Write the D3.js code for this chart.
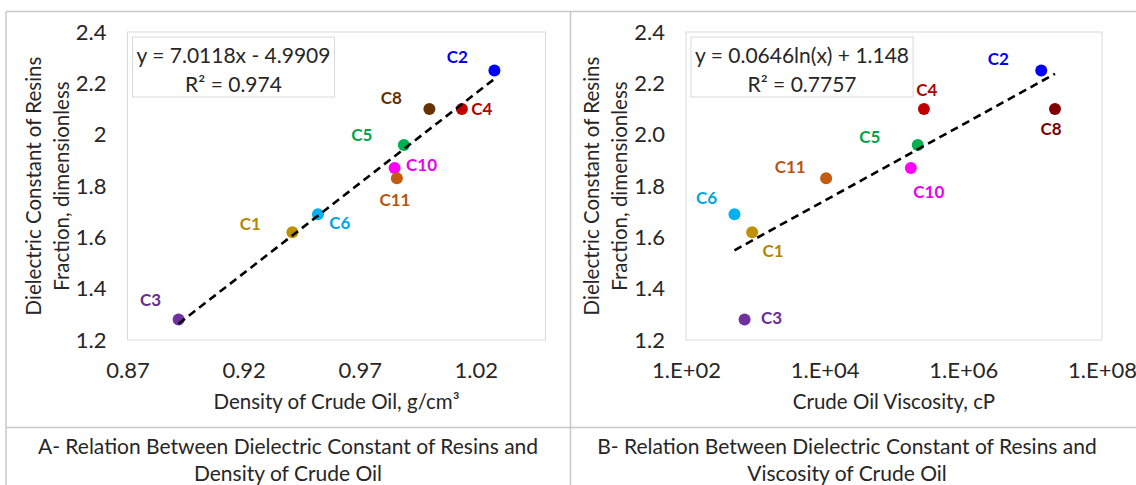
<!DOCTYPE html>
<meta charset="utf-8">
<style>
body { margin: 0; background: #fff; }
svg text { font-family: Lato, "Open Sans", sans-serif; fill: #262626; }
.tick text { font-size: 22px; }
.axis-title { font-size: 20.5px; }
.eq { font-size: 21px; }
.pt-label { font-size: 17px; font-weight: 700; }
.caption { font-size: 21px; }
</style>

<svg width="1136" height="485"></svg>

<script src="https://d3js.org/d3.v7.min.js"></script>
<script>

// crude samples
var names      = ["C1", "C2", "C3", "C4", "C5", "C6", "C8", "C10", "C11"];
var density    = [0.941, 1.028, 0.892, 1.014, 0.989, 0.952, 1.000, 0.985, 0.986];   // g/cm3
var viscosity  = [900, 1.33e7, 700, 2.7e5, 2.2e5, 500, 2.1e7, 1.75e5, 1.05e4];       // cP
var dielectric = [1.62, 2.25, 1.28, 2.10, 1.96, 1.69, 2.10, 1.87, 1.83];

// trend lines as given on the chart
var linCoef = [7.0118, -4.9909], linR2 = 0.974;   // y = a*x + b
var logCoef = [0.0646, 1.148],   logR2 = 0.7757;  // y = a*ln(x) + b

// axes
var yTicks       = [1.2, 1.4, 1.6, 1.8, 2.0, 2.2, 2.4];
var densityTicks = [0.87, 0.92, 0.97, 1.02];
var viscTicks    = [1e2, 1e4, 1e6, 1e8];

var captionA = ["A- Relation Between Dielectric Constant of Resins and", "Density of Crude Oil"];
var captionB = ["B- Relation Between Dielectric Constant of Resins and", "Viscosity of Crude Oil"];

// colours
var colorsA = {C1:"#bf9000", C2:"#0000ff", C3:"#7030a0", C4:"#c00000", C5:"#00b050",
               C6:"#00b0f0", C8:"#663300", C10:"#ff00ff", C11:"#c55a11"};
var colorsB = Object.assign({}, colorsA, {C8: "#800000"});

// label offsets from the dots (label centre)
var offA = {C1:[-42,-9], C2:[-37,-14], C3:[-28,-20], C4:[20,-1], C5:[-42,-10],
            C6:[22,8], C8:[-38,-12], C10:[27,-4], C11:[-2,21]};
var offB = {C1:[21,18], C2:[-43,-12], C3:[27,-2], C4:[3,-20], C5:[-48,-8],
            C6:[-28,-17], C8:[-4,19], C10:[18,23], C11:[-36,-12]};

var svg = d3.select("svg");
var top_ = 32, bottom = 340;

// table frame
var frame = svg.append("g").attr("stroke", "#c8c8c8").attr("stroke-width", 1.5);
frame.append("line").attr("x1", 6).attr("x2", 1136).attr("y1", 11.5).attr("y2", 11.5);
frame.append("line").attr("x1", 6).attr("x2", 6).attr("y1", 11.5).attr("y2", 485);
frame.append("line").attr("x1", 570.5).attr("x2", 570.5).attr("y1", 11.5).attr("y2", 485);
frame.append("line").attr("x1", 6).attr("x2", 1136).attr("y1", 427.5).attr("y2", 427.5);

var y = d3.scaleLinear().domain([1.2, 2.4]).range([bottom, top_]);

function panel(o) {
  var g = svg.append("g");
  var x = o.x;
  var x0 = x.range()[0], x1 = x.range()[1];

  g.append("rect")
      .attr("x", x0).attr("y", top_)
      .attr("width", x1 - x0).attr("height", bottom - top_)
      .attr("fill", "none").attr("stroke", "#d9d9d9");

  g.append("g")
      .attr("transform", "translate(" + x0 + ",0)")
      .call(d3.axisLeft(y).tickValues(yTicks).tickSize(0).tickPadding(21).tickFormat(o.yFmt))
      .call(a => a.select(".domain").remove());

  g.append("g")
      .attr("transform", "translate(0," + bottom + ")")
      .call(d3.axisBottom(x).tickValues(o.xTicks).tickSize(0).tickPadding(22).tickFormat(o.xFmt))
      .call(a => a.select(".domain").remove());
  g.selectAll(".tick text").attr("font-family", null).attr("font-size", null);

  // axis titles
  var cy = (top_ + bottom) / 2;
  g.append("text").attr("class", "axis-title")
      .attr("text-anchor", "middle")
      .attr("transform", "translate(" + (x0 - 95) + "," + cy + ") rotate(-90)")
      .attr("dominant-baseline", "central")
      .text("Dielectric Constant of Resins");
  g.append("text").attr("class", "axis-title")
      .attr("text-anchor", "middle")
      .attr("transform", "translate(" + (x0 - 67) + "," + cy + ") rotate(-90)")
      .attr("dominant-baseline", "central")
      .text("Fraction, dimensionless");
  g.append("text").attr("class", "axis-title")
      .attr("text-anchor", "middle")
      .attr("x", (x0 + x1) / 2).attr("y", 401)
      .attr("dominant-baseline", "central")
      .text(o.xTitle);

  // points
  var pts = names.map((n, i) => ({name: n, x: o.xs[i], y: dielectric[i]}));
  g.selectAll(".dot").data(pts).join("circle")
      .attr("class", "dot")
      .attr("cx", d => x(d.x)).attr("cy", d => y(d.y))
      .attr("r", 6)
      .attr("fill", d => o.colors[d.name]);

  g.selectAll(".pt-label").data(pts).join("text")
      .attr("class", "pt-label")
      .attr("text-anchor", "middle")
      .attr("dominant-baseline", "central")
      .attr("x", d => x(d.x) + o.off[d.name][0])
      .attr("y", d => y(d.y) + o.off[d.name][1])
      .style("fill", d => d3.color(o.colors[d.name]).darker(0.2))
      .text(d => d.name);

  // trend line
  var ext = d3.extent(o.xs);
  g.append("path")
      .datum(ext)
      .attr("fill", "none")
      .attr("stroke", "#000")
      .attr("stroke-width", 2.6)
      .attr("stroke-dasharray", "8,5")
      .attr("d", d3.line().x(d => x(d)).y(d => y(o.trend(d))));

  // equation box
  var eg = g.append("g");
  var box = eg.append("rect").attr("fill", "#fff").attr("stroke", "#d9d9d9");
  var t = eg.selectAll("text").data(o.eq).join("text")
      .attr("class", "eq")
      .attr("text-anchor", "middle")
      .attr("dominant-baseline", "central")
      .attr("y", (d, i) => 54 + i * 29)
      .text(d => d);
  var w = d3.max(t.nodes(), n => n.getComputedTextLength()) + 8;
  var bx = x0 + 5;
  box.attr("x", bx).attr("y", 37).attr("width", w).attr("height", 60);
  t.attr("x", bx + w / 2);
}

panel({
  x: d3.scaleLinear().domain([0.87, 1.05]).range([127.5, 545.5]),
  xs: density,
  xTicks: densityTicks,
  xFmt: d3.format(".2f"),
  yFmt: d => String(+d.toFixed(1)),
  colors: colorsA,
  off: offA,
  trend: v => linCoef[0] * v + linCoef[1],
  eq: ["y = " + linCoef[0].toFixed(4) + "x - " + Math.abs(linCoef[1]).toFixed(4),
       "R\u00b2 = " + linR2],
  xTitle: "Density of Crude Oil, g/cm\u00b3"
});

panel({
  x: d3.scaleLog().domain([1e2, 1e8]).range([686, 1102]),
  xs: viscosity,
  xTicks: viscTicks,
  xFmt: d => "1.E+" + String(Math.round(Math.log10(d))).padStart(2, "0"),
  yFmt: d3.format(".1f"),
  colors: colorsB,
  off: offB,
  trend: v => logCoef[0] * Math.log(v) + logCoef[1],
  eq: ["y = " + logCoef[0] + "ln(x) + " + logCoef[1], "R\u00b2 = " + logR2],
  xTitle: "Crude Oil Viscosity, cP"
});

// captions
[[captionA, 288], [captionB, 847]].forEach(function (c) {
  svg.append("g").selectAll("text").data(c[0]).join("text")
      .attr("class", "caption")
      .attr("text-anchor", "middle")
      .attr("dominant-baseline", "central")
      .attr("x", c[1])
      .attr("y", (d, i) => 445 + i * 27)
      .text(d => d);
});

</script>
